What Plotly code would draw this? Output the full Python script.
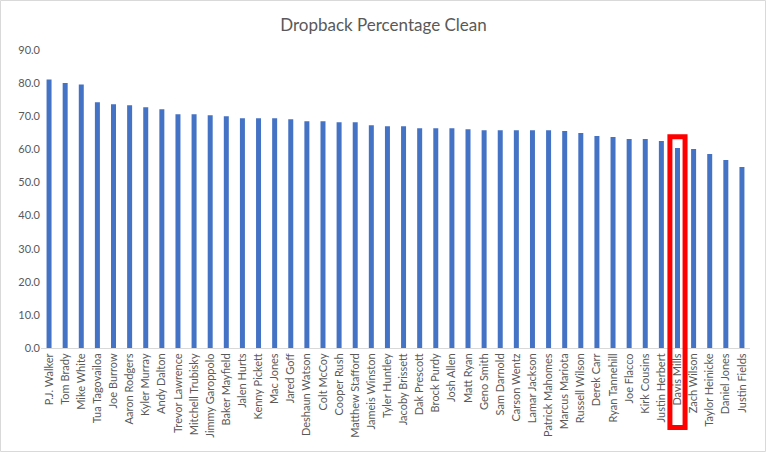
import plotly.graph_objects as go

players = ["P.J. Walker", "Tom Brady", "Mike White", "Tua Tagovailoa", "Joe Burrow",
           "Aaron Rodgers", "Kyler Murray", "Andy Dalton", "Trevor Lawrence", "Mitchell Trubisky",
           "Jimmy Garoppolo", "Baker Mayfield", "Jalen Hurts", "Kenny Pickett", "Mac Jones",
           "Jared Goff", "Deshaun Watson", "Colt McCoy", "Cooper Rush", "Matthew Stafford",
           "Jameis Winston", "Tyler Huntley", "Jacoby Brissett", "Dak Prescott", "Brock Purdy",
           "Josh Allen", "Matt Ryan", "Geno Smith", "Sam Darnold", "Carson Wentz",
           "Lamar Jackson", "Patrick Mahomes", "Marcus Mariota", "Russell Wilson", "Derek Carr",
           "Ryan Tannehill", "Joe Flacco", "Kirk Cousins", "Justin Herbert", "Davis Mills",
           "Zach Wilson", "Taylor Heinicke", "Daniel Jones", "Justin Fields"]
clean_pct = [81.1, 80.0, 79.6, 74.2, 73.6,
             73.3, 72.7, 72.1, 70.6, 70.6,
             70.3, 70.0, 69.4, 69.4, 69.4,
             69.1, 68.5, 68.5, 68.2, 68.2,
             67.3, 67.0, 67.0, 66.4, 66.4,
             66.4, 66.1, 65.8, 65.8, 65.8,
             65.8, 65.8, 65.5, 64.9, 64.0,
             63.7, 63.1, 63.1, 62.5, 60.4,
             60.1, 58.6, 56.8, 54.7]
y_ticks = [0, 10, 20, 30, 40, 50, 60, 70, 80, 90]
highlight = "Davis Mills"

fig = go.Figure(go.Bar(x=players, y=clean_pct, marker_color="#4472C4",
                       marker_line_width=0))

# plot-area geometry (pixels) used for the highlight box and chart frame
L, R, T, B = 41, 17, 50, 105
W, H = 767 - L - R, 453 - T - B
n = len(players)
idx = players.index(highlight)
hx0 = (idx - 0.47 + 0.5) / n
hx1 = (idx + 0.47 + 0.5) / n
hy1 = 63.8 / 90
hy0 = -(427.5 - 348) / H

fig.update_layout(
    width=767, height=453,
    margin=dict(l=L, r=R, t=T, b=B),
    paper_bgcolor="white", plot_bgcolor="white",
    font=dict(family="Lato, Carlito, sans-serif", color="#595959", size=11),
    title=dict(text="Dropback Percentage Clean", x=0.5, xref="container", xanchor="center",
               y=1 - 25 / 453, yref="container", yanchor="middle",
               font=dict(size=17, color="#595959")),
    bargap=0.69,
    showlegend=False,
    xaxis=dict(type="category", range=[-0.5, n - 0.5], tickangle=-90,
               showline=True, linecolor="#d9d9d9", linewidth=1,
               showgrid=False, ticks="", tickfont=dict(size=11, color="#595959")),
    yaxis=dict(range=[0, 90], tickvals=y_ticks, tickformat=".1f",
               showgrid=False, zeroline=False, showline=False, ticks="",
               tickfont=dict(size=11, color="#595959")),
    shapes=[
        dict(type="rect", xref="paper", yref="paper", x0=hx0, x1=hx1, y0=hy0, y1=hy1,
             line=dict(color="#FF0000", width=5), fillcolor="rgba(0,0,0,0)", layer="above"),
        dict(type="rect", xref="paper", yref="paper",
             x0=(0.5 - L) / W, x1=(765.5 - L) / W,
             y0=(348 - 451.5) / H, y1=(348 - 0.5) / H,
             line=dict(color="#d9d9d9", width=1), fillcolor="rgba(0,0,0,0)", layer="below"),
    ],
)

fig.write_html("out.html", config={"displayModeBar": False},
               post_script="document.body.style.margin='0';document.body.style.overflow='hidden';")
